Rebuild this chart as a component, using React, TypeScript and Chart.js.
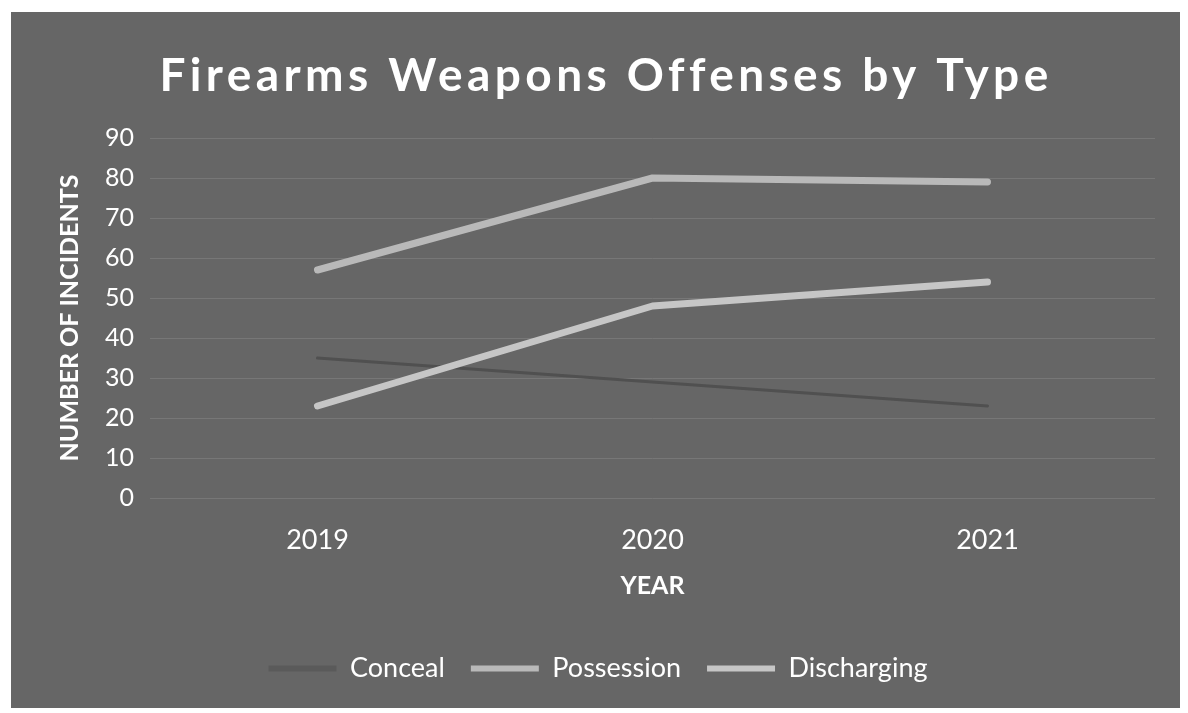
import React, { useEffect, useRef } from "react";
import { Chart, registerables } from "chart.js";

Chart.register(...registerables);

const TITLE = "Firearms Weapons Offenses by Type";
const years = ["2019", "2020", "2021"];
const conceal = [35, 29, 23];
const possession = [57, 80, 79];
const discharging = [23, 48, 54];
const yMin = 0;
const yMax = 90;
const yStep = 10;

const FONT = "Lato, 'Open Sans', sans-serif";

const spacedTitle = {
  id: "spacedTitle",
  afterDraw(chart: any) {
    const ctx = chart.ctx as CanvasRenderingContext2D;
    ctx.save();
    ctx.font = `bold 46px ${FONT}`;
    ctx.fillStyle = "#ffffff";
    ctx.textAlign = "center";
    ctx.textBaseline = "middle";
    (ctx as any).letterSpacing = "4.4px";
    ctx.fillText(TITLE, chart.width / 2 + 8, 64);
    ctx.restore();
  },
};

export default function App() {
  const ref = useRef<HTMLCanvasElement | null>(null);

  useEffect(() => {
    if (!ref.current) return;
    const chart = new Chart(ref.current, {
      type: "line",
      data: {
        labels: years,
        datasets: [
          {
            label: "Conceal",
            data: conceal,
            borderColor: "#505050",
            backgroundColor: "#5a5a5a",
            borderWidth: 3,
            order: 1,
          },
          {
            label: "Possession",
            data: possession,
            borderColor: "#b9b9b9",
            backgroundColor: "#b9b9b9",
            borderWidth: 7,
            order: 0,
          },
          {
            label: "Discharging",
            data: discharging,
            borderColor: "#c6c6c6",
            backgroundColor: "#c6c6c6",
            borderWidth: 7,
            order: 0,
          },
        ],
      },
      options: {
        animation: false,
        responsive: true,
        maintainAspectRatio: false,
        layout: { padding: { top: 126, left: 0, right: 0, bottom: 16 } },
        elements: {
          line: { tension: 0, borderCapStyle: "round", borderJoinStyle: "round" },
          point: { radius: 0, hoverRadius: 0 },
        },
        plugins: {
          title: { display: false },
          tooltip: { enabled: false },
          legend: {
            position: "bottom",
            labels: {
              color: "#ffffff",
              font: { family: FONT, size: 27 },
              boxWidth: 68,
              boxHeight: 6,
              padding: 26,
              sort: (a: any, b: any) => a.datasetIndex - b.datasetIndex,
              generateLabels: (c: any) => {
                const items = Chart.defaults.plugins.legend.labels.generateLabels(c);
                return items.map((it: any) => ({ ...it, lineWidth: 0 }));
              },
            },
          },
        },
        scales: {
          x: {
            type: "category",
            offset: true,
            grid: { display: false, drawTicks: false },
            border: { display: false },
            ticks: { color: "#ffffff", font: { family: FONT, size: 27 }, padding: 26 },
            title: {
              display: true,
              text: "YEAR",
              color: "#ffffff",
              font: { family: FONT, size: 25, weight: "bold" },
              padding: { top: 4, bottom: 28 },
            },
            afterFit: (s: any) => {
              s.height = 131;
            },
          },
          y: {
            min: yMin,
            max: yMax,
            ticks: {
              stepSize: yStep,
              color: "#ffffff",
              font: { family: FONT, size: 25 },
              padding: 16,
            },
            grid: { color: "#777777", lineWidth: 1, drawTicks: false },
            border: { display: false },
            title: {
              display: true,
              text: "NUMBER OF INCIDENTS",
              color: "#ffffff",
              font: { family: FONT, size: 25, weight: "bold" },
              padding: { top: 44, bottom: 0 },
            },
            afterFit: (s: any) => {
              s.width = 139;
            },
          },
          yRight: {
            type: "linear",
            position: "right",
            display: true,
            ticks: { display: false },
            grid: { display: false, drawTicks: false },
            border: { display: false },
            afterFit: (s: any) => {
              s.width = 30;
            },
          },
        },
      },
      plugins: [spacedTitle],
    });
    return () => chart.destroy();
  }, []);

  return (
    <div
      style={{
        position: "relative",
        marginLeft: 3,
        marginTop: 4,
        width: 1174,
        height: 696,
        background: "#666666",
      }}
    >
      <canvas ref={ref} />
    </div>
  );
}
